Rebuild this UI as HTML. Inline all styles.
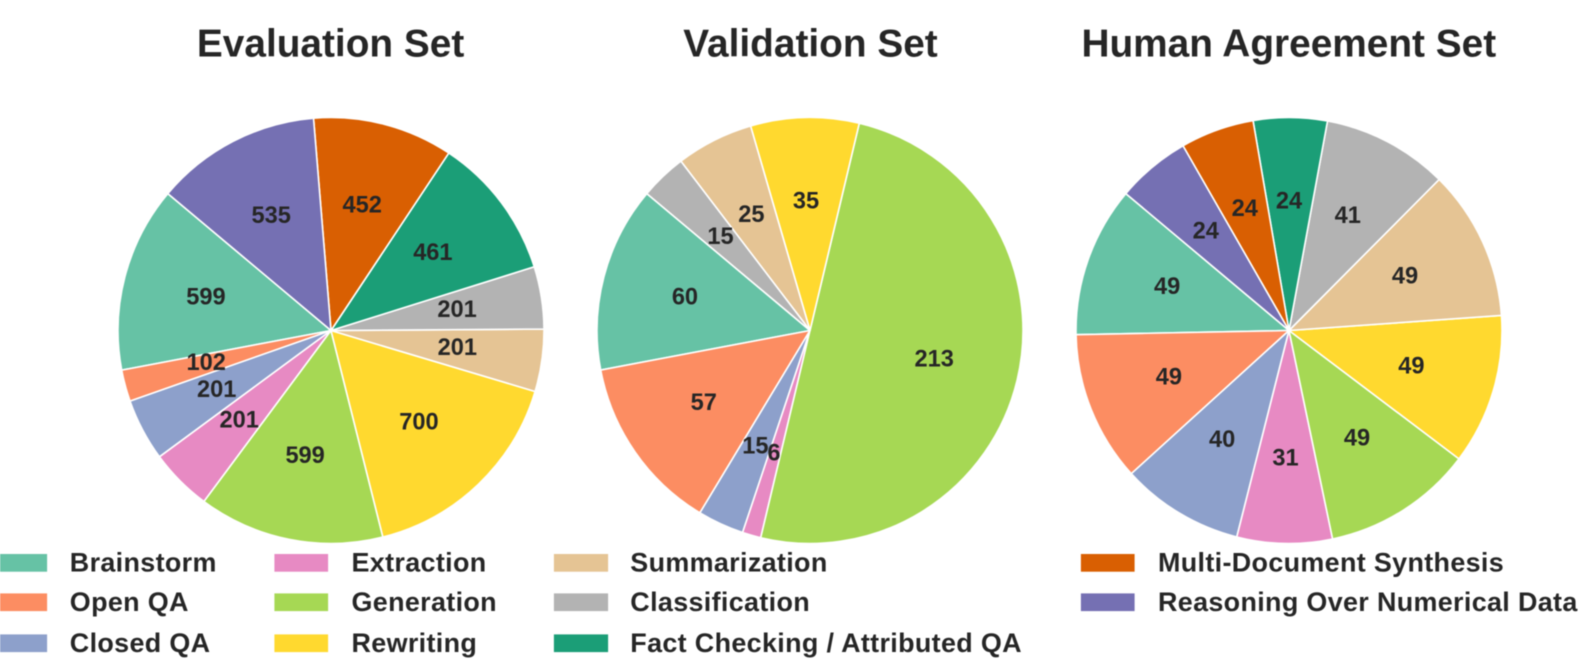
<!DOCTYPE html>
<html lang="en">
<head>
<meta charset="utf-8">
<title>Task category pies</title>
<style>
html,body{margin:0;padding:0;background:#fff;width:1582px;height:663px;overflow:hidden}
svg{display:block;filter:blur(0.4px)}
text{font-family:"Liberation Sans",Arial,sans-serif;font-weight:bold;fill:#262626}
</style>
</head>
<body>
<svg id="chart" xmlns="http://www.w3.org/2000/svg" width="1582" height="663" viewBox="0 0 1582 663"></svg>
<script>
const categories = ["Brainstorm","Open QA","Closed QA","Extraction","Generation","Rewriting","Summarization","Classification","Fact Checking / Attributed QA","Multi-Document Synthesis","Reasoning Over Numerical Data"];
const categoryColors = ["#66c2a5","#fc8d62","#8da0cb","#e78ac3","#a6d854","#ffd92f","#e5c494","#b3b3b3","#1b9e77","#d95f02","#7570b3"];
const chartTitles = ["Evaluation Set","Validation Set","Human Agreement Set"];
const evaluationValues = [599,102,201,201,599,700,201,201,461,452,535];
const validationValues = [60,57,15,6,213,35,25,15,0,0,0];
const humanValues = [49,49,40,31,49,49,49,41,24,24,24];
const allSeries = [evaluationValues, validationValues, humanValues];

const NS = "http://www.w3.org/2000/svg";
const svg = document.getElementById("chart");
const layout = [{cx:331,title:330.6},{cx:810,title:810.5},{cx:1289,title:1288.8}];
const CY = 330.5, R = 213, START = 140, LABEL_DIST = 0.603;

function make(tag, attrs, parent){
  const e = document.createElementNS(NS, tag);
  for (const k in attrs) e.setAttribute(k, attrs[k]);
  (parent || svg).appendChild(e);
  return e;
}
function slug(s){ return s.toLowerCase().replace(/[^a-z0-9]+/g,"-").replace(/^-|-$/g,""); }
function angleScale(total){ return v => v / total * 360; }
function pointAt(cx, radius, deg){
  const a = deg * Math.PI / 180;
  return [cx + radius * Math.cos(a), CY - radius * Math.sin(a)];
}

allSeries.forEach((values, s) => {
  const cx = layout[s].cx;
  const group = make("g", {});
  
  

  const title = make("text", {x:layout[s].title, y:56.5, "text-anchor":"middle", "font-size":38.8});
  title.textContent = chartTitles[s];
  
  

  const total = values.reduce((a,b) => a + b, 0);
  const toAngle = angleScale(total);
  let angle = START;
  const labels = [];
  values.forEach((v, i) => {
    if (v <= 0) return;
    const sweep = toAngle(v);
    const p0 = pointAt(cx, R, angle);
    const p1 = pointAt(cx, R, angle + sweep);
    const large = sweep > 180 ? 1 : 0;
    const slice = make("path", {
      d:`M${cx} ${CY}L${p0[0].toFixed(2)} ${p0[1].toFixed(2)}A${R} ${R} 0 ${large} 0 ${p1[0].toFixed(2)} ${p1[1].toFixed(2)}Z`,
      fill:categoryColors[i], stroke:"#fff", "stroke-width":1.6, "stroke-linejoin":"round"
    }, group);
    
    
    const lp = pointAt(cx, R * LABEL_DIST, angle + sweep / 2);
    labels.push({v, i, x:lp[0], y:lp[1]});
    angle += sweep;
  });
  labels.forEach(l => {
    const t = make("text", {x:(l.x - 0.8).toFixed(2), y:(l.y + 6.4).toFixed(2), "text-anchor":"middle", "font-size":23.6}, group);
    t.textContent = l.v;
    
    
  });
});

const legendCols = [
  {px:-7, tx:69.8, w:54.5, rows:[0,1,2]},
  {px:274, tx:351.5, w:54.5, rows:[3,4,5]},
  {px:553.5, tx:630.3, w:55, rows:[6,7,8]},
  {px:1080.5, tx:1158, w:54.5, rows:[9,10]}
];
const legendY = [553.6,593,634];
const legend = make("g", {});


legendCols.forEach(col => {
  col.rows.forEach((cat, r) => {
    const rect = make("rect", {x:col.px, y:legendY[r], width:col.w, height:18.5, fill:categoryColors[cat], stroke:"#fff", "stroke-width":0.8}, legend);
    
    
    const t = make("text", {x:col.tx, y:legendY[r] + 17.9, "font-size":26.9, "letter-spacing":"0.35"}, legend);
    t.textContent = categories[cat];
    
    
  });
});
</script>
</body>
</html>
